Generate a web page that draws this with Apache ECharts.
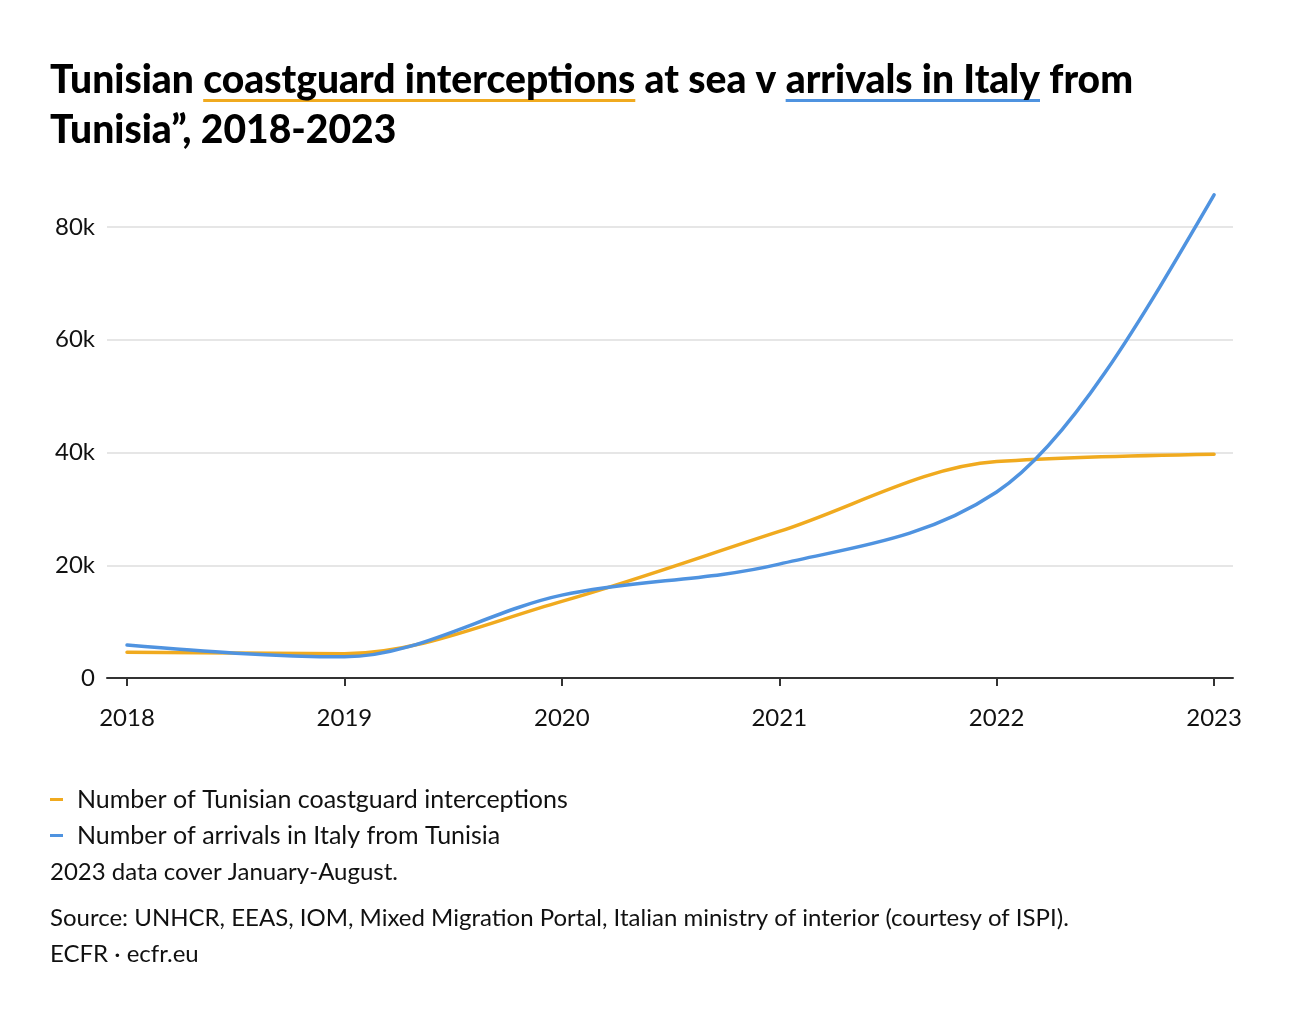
<!DOCTYPE html>
<html>
<head>
<meta charset="utf-8">
<script src="https://cdn.jsdelivr.net/npm/echarts@6/dist/echarts.min.js"></script>
<style>
html,body{margin:0;padding:0;background:#fff;}
#chart{width:1300px;height:1020px;}
</style>
</head>
<body>
<div id="chart"></div>
<script>
// ---- data ----
const years = [2018, 2019, 2020, 2021, 2022, 2023];
const interceptions = [4560, 4300, 13600, 26000, 38400, 39700];
const arrivals = [5850, 3750, 14700, 20200, 33000, 85700];
const yTicks = [0, 20000, 40000, 60000, 80000];
const seriesNames = ['Number of Tunisian coastguard interceptions', 'Number of arrivals in Italy from Tunisia'];

const ORANGE = '#F0AA1F';
const BLUE = '#4F93E0';
const FONT = 'Lato';
const TITLE_FONT_SIZE = 39;
const TITLE_WEIGHT = 900;

function measure(str) {
  const c = document.createElement('canvas').getContext('2d');
  c.font = TITLE_WEIGHT + ' ' + TITLE_FONT_SIZE + 'px ' + FONT;
  return c.measureText(str).width;
}

const line1 = 'Tunisian coastguard interceptions at sea v arrivals in Italy from';
const line2 = 'Tunisia\u201d, 2018-2023';
const TX = 50;
const u1x = TX + measure('Tunisian ');
const u1w = measure('coastguard interceptions');
const u2x = TX + measure('Tunisian coastguard interceptions at sea v ');
const u2w = measure('arrivals in Italy');

const seriesValues = [interceptions, arrivals];
const seriesColors = [ORANGE, BLUE];

// monotone-x cubic path (Fritsch–Carlson, as in d3.curveMonotoneX) through pixel points
function monotonePath(pts) {
  const n = pts.length;
  const sign = v => v < 0 ? -1 : 1;
  const s = [], h = [];
  for (let i = 0; i < n - 1; i++) {
    h[i] = pts[i + 1][0] - pts[i][0];
    s[i] = (pts[i + 1][1] - pts[i][1]) / h[i];
  }
  const t = new Array(n);
  for (let i = 1; i < n - 1; i++) {
    const s0 = s[i - 1], s1 = s[i], h0 = h[i - 1], h1 = h[i];
    const p = (s0 * h1 + s1 * h0) / (h0 + h1);
    t[i] = (sign(s0) + sign(s1)) * Math.min(Math.abs(s0), Math.abs(s1), 0.5 * Math.abs(p)) || 0;
  }
  t[0] = (3 * s[0] - t[1]) / 2;
  t[n - 1] = (3 * s[n - 2] - t[n - 2]) / 2;
  let d = 'M' + pts[0][0] + ',' + pts[0][1];
  for (let i = 0; i < n - 1; i++) {
    const [x0, y0] = pts[i], [x1, y1] = pts[i + 1];
    const dx = (x1 - x0) / 3;
    d += ' C' + (x0 + dx) + ',' + (y0 + dx * t[i]) + ' ' + (x1 - dx) + ',' + (y1 - dx * t[i + 1]) + ' ' + x1 + ',' + y1;
  }
  return d;
}

function makeSeries(k) {
  return {
    name: seriesNames[k],
    type: 'custom',
    coordinateSystem: 'cartesian2d',
    clip: false,
    encode: {x: 0, y: 1},
    itemStyle: {color: seriesColors[k]},
    data: years.map((y, i) => [y, seriesValues[k][i]]),
    renderItem: function (params, api) {
      if (params.dataIndex !== 0) return null;
      const pts = years.map((y, i) => api.coord([y, seriesValues[k][i]]));
      return {
        type: 'path',
        shape: {pathData: monotonePath(pts)},
        style: {fill: 'none', stroke: seriesColors[k], lineWidth: 3.5, lineCap: 'round', lineJoin: 'round'}
      };
    }
  };
}

const chart = echarts.init(document.getElementById('chart'), null, {renderer: 'canvas'});
chart.setOption({
  backgroundColor: '#fff',
  animation: false,
  title: {
    text: line1 + '\n' + line2,
    left: TX - 5,
    top: 50,
    textStyle: {
      fontFamily: FONT, fontWeight: TITLE_WEIGHT, fontSize: TITLE_FONT_SIZE,
      color: '#000', lineHeight: 50
    }
  },
  graphic: [
    {type: 'rect', shape: {x: u1x, y: 99, width: u1w, height: 3}, style: {fill: ORANGE}},
    {type: 'rect', shape: {x: u2x, y: 99, width: u2w, height: 3}, style: {fill: BLUE}},
    {type: 'text', left: 50, top: 860, style: {text: '2023 data cover January-August.', font: '24px ' + FONT, fill: '#111'}},
    {type: 'text', left: 50, top: 906, style: {text: 'Source: UNHCR, EEAS, IOM, Mixed Migration Portal, Italian ministry of interior (courtesy of ISPI).', font: '24px ' + FONT, fill: '#111'}},
    {type: 'text', left: 50, top: 942, style: {text: 'ECFR \u00b7 ecfr.eu', font: '24px ' + FONT, fill: '#111'}}
  ],
  legend: {
    orient: 'vertical',
    left: 45,
    top: 782,
    itemWidth: 13,
    itemHeight: 3,
    itemGap: 11,
    icon: 'rect',
    textStyle: {fontFamily: FONT, fontSize: 25, color: '#111', padding: [0, 0, 0, 9]},
    data: seriesNames
  },
  grid: {left: 107, right: 67, top: 227, bottom: 342, containLabel: false},
  xAxis: {
    type: 'value',
    min: 2017.908,
    max: 2023.087,
    axisLine: {show: true, lineStyle: {color: '#333', width: 2}},
    axisTick: {show: true, customValues: years, length: 8, lineStyle: {color: '#333', width: 2}},
    axisLabel: {customValues: years, formatter: v => String(v), fontFamily: FONT, fontSize: 24, color: '#111', margin: 28},
    splitLine: {show: false}
  },
  yAxis: {
    type: 'value',
    min: 0,
    max: 80000,
    interval: 20000,
    axisLine: {show: false},
    axisTick: {show: false},
    axisLabel: {
      formatter: v => v === 0 ? '0' : (v / 1000) + 'k',
      fontFamily: FONT, fontSize: 24, color: '#111', margin: 12
    },
    splitLine: {show: true, lineStyle: {color: '#e6e6e6', width: 2}}
  },
  series: [makeSeries(0), makeSeries(1)]
});
</script>
</body>
</html>
